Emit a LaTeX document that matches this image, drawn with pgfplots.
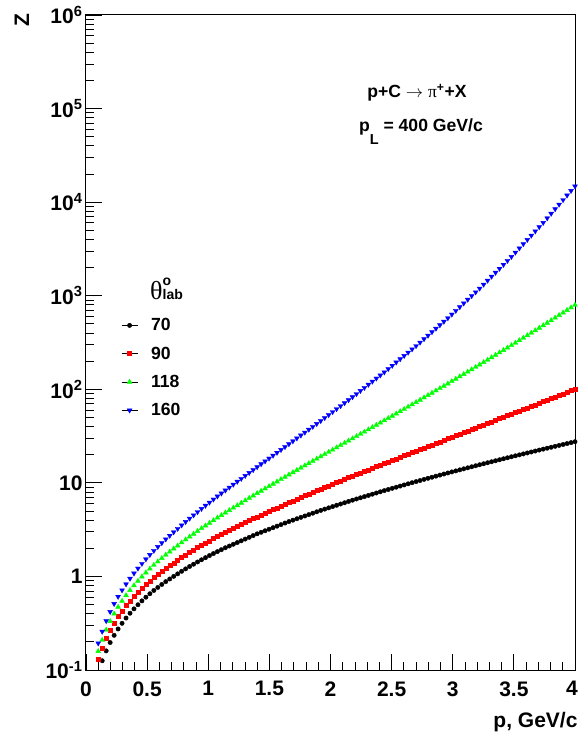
\documentclass[border=0pt]{standalone}
\usepackage{fontspec}
\setmainfont{Liberation Sans}
\newfontfamily\serif{Liberation Serif}
\usepackage{pgfplots}
\pgfplotsset{compat=1.18}
\usepackage{pgfplotstable}

\pgfplotstableread{
x k r g b
0.1 nan 0.1295 0.1586 0.1933
0.1325 0.1255 0.1695 0.2089 0.2577
0.165 0.1601 0.2164 0.2685 0.3351
0.1975 0.1966 0.2658 0.3321 0.4192
0.23 0.2348 0.3177 0.3995 0.5102
0.2625 0.2746 0.372 0.4713 0.6086
0.295 0.3155 0.4281 0.546 0.713
0.3275 0.3591 0.4878 0.6268 0.8276
0.36 0.4042 0.5495 0.7112 0.9497
0.3925 0.4503 0.6135 0.8002 1.080
0.425 0.498 0.6795 0.8933 1.219
0.4575 0.5481 0.7493 0.9929 1.369
0.49 0.600 0.8216 1.097 1.530
0.5225 0.6534 0.8966 1.207 1.702
0.555 0.7081 0.9741 1.323 1.885
0.5875 0.7628 1.0515 1.440 2.073
0.62 0.8205 1.1337 1.565 2.279
0.6525 0.880 1.2193 1.699 2.500
0.685 0.9391 1.3045 1.835 2.729
0.7175 1.0014 1.395 1.980 2.975
0.75 1.0656 1.489 2.132 3.238
0.7825 1.134 1.589 2.299 3.528
0.815 1.204 1.693 2.473 3.837
0.8475 1.277 1.802 2.657 4.167
0.88 1.351 1.912 2.847 4.514
0.9125 1.428 2.029 3.050 4.891
0.945 1.506 2.148 3.265 5.292
0.9775 1.587 2.272 3.489 5.716
1.01 1.671 2.401 3.724 6.169
1.0425 1.756 2.534 3.973 6.660
1.075 1.843 2.672 4.236 7.178
1.1075 1.932 2.814 4.510 7.731
1.14 2.025 2.962 4.798 8.318
1.1725 2.113 3.107 5.095 8.940
1.205 2.206 3.260 5.410 9.605
1.2375 2.302 3.420 5.742 10.32
1.27 2.403 3.588 6.097 11.09
1.3025 2.508 3.764 6.471 11.92
1.335 2.618 3.949 6.871 12.81
1.3675 2.733 4.144 7.295 13.76
1.4 2.853 4.346 7.745 14.78
1.4325 2.963 4.542 8.199 15.87
1.465 3.077 4.746 8.681 17.03
1.4975 3.195 4.961 9.190 18.27
1.53 3.319 5.184 9.730 19.62
1.5625 3.446 5.417 10.30 21.04
1.595 3.579 5.660 10.91 22.58
1.6275 3.717 5.914 11.54 24.24
1.66 3.860 6.180 12.22 26.01
1.6925 3.995 6.442 12.93 27.93
1.725 4.134 6.714 13.67 29.99
1.7575 4.278 6.998 14.45 32.20
1.79 4.426 7.295 15.28 34.58
1.8225 4.580 7.601 16.15 37.14
1.855 4.739 7.923 17.08 39.87
1.8875 4.905 8.260 18.06 42.83
1.92 5.075 8.609 19.09 45.98
1.9525 5.238 8.959 20.18 49.50
1.985 5.405 9.322 21.33 53.25
2.0175 5.578 9.701 22.54 57.31
2.05 5.757 10.09 23.82 61.66
2.0825 5.941 10.50 25.18 66.36
2.115 6.132 10.93 26.62 71.41
2.1475 6.329 11.38 28.13 76.84
2.18 6.531 11.84 29.73 82.69
2.2125 6.727 12.31 31.43 89.23
2.245 6.925 12.79 33.22 96.34
2.2775 7.132 13.30 35.11 104.0
2.31 7.345 13.82 37.13 112.3
2.3425 7.566 14.37 39.25 121.2
2.375 7.790 14.94 41.49 130.8
2.4075 8.024 15.53 43.85 141.2
2.44 8.266 16.14 46.36 152.4
2.4725 8.499 16.77 49.04 165.2
2.505 8.739 17.42 51.88 179.1
2.5375 8.985 18.10 54.87 194.2
2.57 9.239 18.81 58.04 210.5
2.6025 9.500 19.54 61.39 228.2
2.635 9.766 20.30 64.96 247.4
2.6675 10.04 21.09 68.72 268.2
2.7 10.32 21.92 72.69 290.7
2.7325 10.60 22.76 76.96 316.7
2.765 10.89 23.63 81.49 345.0
2.7975 11.18 24.55 86.29 375.7
2.83 11.48 25.50 91.39 409.4
2.8625 11.79 26.49 96.74 445.9
2.895 12.10 27.51 102.4 485.8
2.9275 12.43 28.58 108.4 529.1
2.96 12.76 29.68 114.8 576.4
2.9925 13.09 30.82 121.7 631.4
3.025 13.42 32.00 129.0 691.7
3.0575 13.77 33.24 136.8 757.9
3.09 14.12 34.52 145.0 830.3
3.1225 14.48 35.85 153.7 909.6
3.155 14.85 37.24 162.9 996.3
3.1875 15.23 38.67 172.7 1091
3.22 15.62 40.16 183.0 1196
3.2525 16.01 41.72 194.3 1318
3.285 16.41 43.33 206.2 1454
3.3175 16.81 45.00 218.9 1603
3.35 17.23 46.74 232.4 1767
3.3825 17.66 48.56 246.7 1948
3.415 18.09 50.43 261.8 2148
3.4475 18.54 52.38 277.9 2368
3.48 19.00 54.40 295.0 2611
3.5125 19.45 56.52 313.5 2899
3.545 19.91 58.72 333.4 3219
3.5775 20.39 61.00 354.3 3574
3.61 20.87 63.37 376.7 3966
3.6425 21.37 65.84 400.5 4404
3.675 21.88 68.41 425.7 4891
3.7075 22.40 71.06 452.6 5430
3.74 22.93 73.82 481.2 6029
3.7725 23.46 76.71 512.2 6744
3.805 24.01 79.74 545.3 7544
3.8375 24.56 82.87 580.6 8442
3.87 25.14 86.12 618.2 9443
3.9025 25.72 89.49 658.0 10564
3.935 26.31 93.02 700.9 11820
3.9675 26.93 96.67 746.2 13220
4.0 27.54 100.5 794.3 14790
}\data

\begin{document}
\begin{tikzpicture}
\begin{axis}[name=ax,
  scale only axis, width=489pt, height=655pt,
  xmin=0, xmax=4, ymin=0.1, ymax=1e6, ymode=log,
  clip=false,
  axis line style={line width=1pt},
  every tick/.style={black, line width=0.8pt},
  major tick length=16pt, minor tick length=8pt,
  tick align=inside, tick pos=left,
  xtick={0,0.5,1,1.5,2,2.5,3,3.5,4},
  xticklabels={0,0.5,1,1.5,2,2.5,3,3.5,\kern-6pt4},
  minor x tick num=4,
  ytick={0.1,1,10,100,1000,10000,100000,1000000},
  yticklabels={10\textsuperscript{-1},1,10,10\textsuperscript{2},10\textsuperscript{3},10\textsuperscript{4},10\textsuperscript{5},10\textsuperscript{6}},
  minor ytick={0.2,0.3,0.4,0.5,0.6,0.7,0.8,0.9,2,3,4,5,6,7,8,9,20,30,40,50,60,70,80,90,200,300,400,500,600,700,800,900,2000,3000,4000,5000,6000,7000,8000,9000,20000,30000,40000,50000,60000,70000,80000,90000,200000,300000,400000,500000,600000,700000,800000,900000},
  tick label style={font=\bfseries\fontsize{21}{21}\selectfont},
  xticklabel style={yshift=-8pt},
  xlabel={p, GeV/c}, ylabel={Z},
  label style={font=\bfseries\fontsize{21}{21}\selectfont},
  xlabel style={at={(rel axis cs:1,0)}, anchor=north east, yshift=-39pt, xshift=6pt},
  ylabel style={at={([xshift=-64pt,yshift=5pt]rel axis cs:0,1)}, anchor=east},
  legend style={draw=none, fill=none, at={(rel axis cs:0.0716,0.54)}, anchor=north west,
    inner sep=0pt, font=\bfseries\fontsize{17.6}{18}\selectfont, row sep=10.5pt,
    /tikz/every odd column/.append style={column sep=11pt}},
  legend cell align=left,
  legend image code/.code={\draw[black, line width=0.8pt] (0pt,0pt) -- (16pt,0pt);
    \draw[mark repeat=1, mark phase=1, #1] plot coordinates {(8pt,0pt)};},
]
\addplot[only marks, mark=*, mark size=2.2pt, black] table[x=x,y=k]{\data};
\addlegendentry{70}
\addplot[only marks, mark=square*, mark size=2.0pt, red] table[x=x,y=r]{\data};
\addlegendentry{90}
\addplot[only marks, mark=triangle*, mark size=2.8pt, green] table[x=x,y=g]{\data};
\addlegendentry{118}
\addplot[only marks, mark=triangle*, mark size=2.8pt, blue, mark options={rotate=180}] table[x=x,y=b]{\data};
\addlegendentry{160}

\node[anchor=base, font=\bfseries\fontsize{17.6}{18}\selectfont] at (rel axis cs:0.6769,0.8737)
  {p+C {\mdseries$\rightarrow$} {\serif\mdseries π}\textsuperscript{+}+X};
\node[anchor=base, font=\bfseries\fontsize{17.6}{18}\selectfont] at (rel axis cs:0.685,0.8218)
  {p\raisebox{-13pt}{\fontsize{14.5}{15}\selectfont L} = 400 GeV/c};
\node[anchor=base west, inner sep=0pt] at (rel axis cs:0.1309,0.5649)
  {{\serif\fontsize{26}{26}\selectfont θ}\rlap{\raisebox{14pt}{\bfseries\fontsize{14}{14}\selectfont o}}{\bfseries\fontsize{14}{14}\selectfont lab}};
\end{axis}
\pgfresetboundingbox
\path (ax.south west) ++(-86pt,-68pt) rectangle ++(579pt,738pt);
\end{tikzpicture}
\end{document}
